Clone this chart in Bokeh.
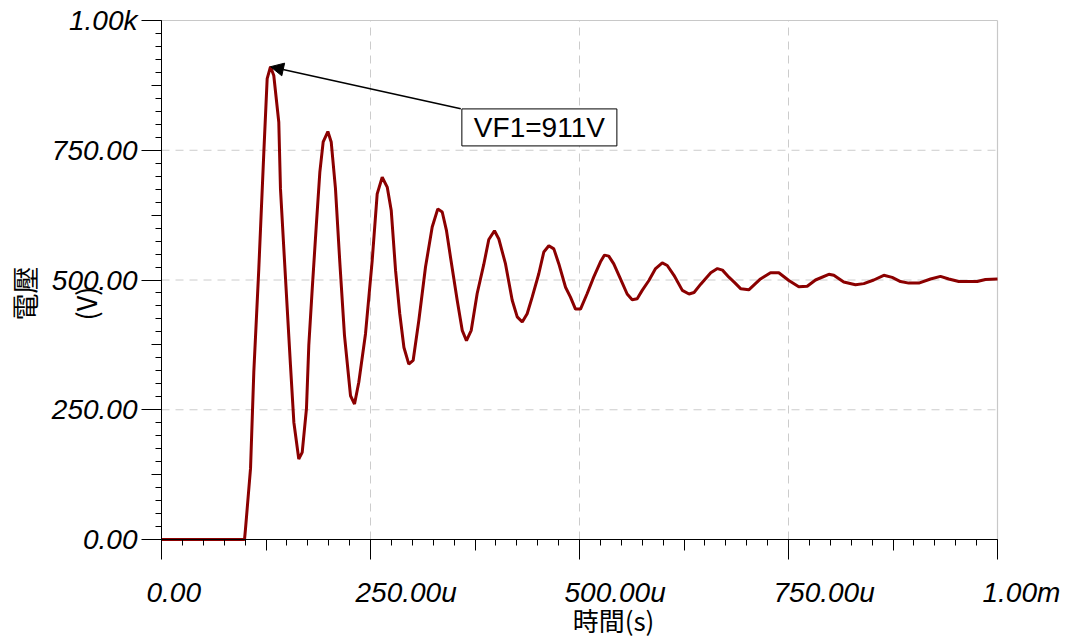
import math
from bokeh.plotting import figure
from bokeh.models import Range1d, FixedTicker, LinearAxis, Label, Arrow, NormalHead
from bokeh.embed import file_html
from bokeh.resources import INLINE

# ---- data (time in microseconds, voltage in volts) ----
time_us = [0, 99.3, 100.5, 106.5, 110.4, 116.4, 122.4, 126.4, 130.4, 134.3, 140.3, 142.3,
           146.3, 150.4, 154.3, 158.3, 164.2, 168.3, 173.4, 176.2, 180.3, 185.4, 189.4, 193.4,
           199, 203, 208.1, 213.3, 218.9, 226.1, 230.9, 236, 244, 252, 258, 264, 270, 274.8,
           280, 285, 290, 295.8, 301, 307.8, 315.8, 323.8, 330.5, 335.8, 340.9, 345.7, 353.7,
           359.7, 364.8, 370.5, 377.6, 385.5, 391.5, 398.3, 403.5, 411.5, 419.5, 425.5, 431.5,
           437.4, 443.4, 451.3, 457.3, 463.3, 469.3, 475.3, 483.3, 489.2, 495.2, 501.2, 509.2,
           517.1, 525.1, 529.9, 535, 541, 549, 557, 563, 569, 575, 583, 591, 599, 605, 613,
           623, 631, 637, 645, 657, 665, 671, 679, 685, 693, 702.5, 716.5, 728.5, 738.4,
           750.4, 762.3, 772.4, 782.3, 798.2, 804.2, 816.1, 830.1, 840.1, 852, 864, 874, 884,
           893.9, 905.9, 919.9, 931.8, 941.7, 953.7, 975.7, 985.6, 1000]
voltage = [0, 0, 21, 137, 322, 522, 746, 888, 911, 894, 804, 676,
           561, 445, 335, 226, 155, 168, 252, 374, 483, 611, 708, 766,
           786, 766, 676, 534, 393, 277, 261, 303, 396, 537, 666, 698, 679, 634,
           518, 435, 370, 338, 345, 422, 525, 602, 637, 631, 595, 544, 461,
           403, 383, 403, 474, 530, 578, 595, 579, 531, 461, 429, 419,
           435, 467, 512, 554, 566, 560, 531, 486, 467, 444, 444, 474,
           506, 535, 548, 546, 531, 502, 473, 462, 464, 480, 499, 522, 533, 528, 509,
           480, 473, 476, 492, 514, 522, 519, 505, 496, 483, 481, 502, 514, 514,
           499, 487, 488, 500, 511, 509, 496, 491, 493, 500, 509, 505, 497,
           494, 494, 502, 507, 502, 497, 497, 501, 502]

x_ticks = [0, 250, 500, 750, 1000]
x_tick_labels = ["0.00", "250.00u", "500.00u", "750.00u", "1.00m"]
y_ticks = [0, 250, 500, 750, 1000]
y_tick_labels = ["0.00", "250.00", "500.00", "750.00", "1.00k"]
minor_step = 25
x_title = "時間(s)"
y_title_1 = "電壓"
y_title_2 = "(V)"

peak_t, peak_v = 130.4, 911
annot_text = "VF1=911V"
annot_t, annot_v = 452, 794      # centre of the annotation box
arrow_t0, arrow_v0 = 358, 830    # arrow tail (box corner)

# ---- layout (pixels) ----
W, H = 1068, 639
PLOT_LEFT, PLOT_RIGHT, PLOT_TOP, PLOT_BOTTOM = 161, 997, 20, 539

LINE_COLOR = "#8b0000"
GRID_COLOR = "#cccccc"
FONT = "Liberation Sans"
CJK = "Noto Sans CJK TC"

x0, x1 = x_ticks[0], x_ticks[-1]
y0, y1 = y_ticks[0], y_ticks[-1]
kx = (PLOT_RIGHT - PLOT_LEFT) / (x1 - x0)
ky = (PLOT_BOTTOM - PLOT_TOP) / (y1 - y0)
x_range = Range1d(x0 - PLOT_LEFT / kx, x0 + (W - PLOT_LEFT) / kx)
y_range = Range1d(y0 - (H - PLOT_BOTTOM) / ky, y0 + PLOT_BOTTOM / ky)

p = figure(width=W, height=H, x_range=x_range, y_range=y_range, title=None,
           x_axis_location=None, y_axis_location=None,
           output_backend="svg", toolbar_location=None,
           min_border=0, min_border_left=0, min_border_right=0,
           min_border_top=0, min_border_bottom=0,
           background_fill_color="white", border_fill_color="white",
           outline_line_color=None)
for g in p.grid:
    g.visible = False

# grid lines and plot-area border (top / right)
gx = x_ticks[1:-1]
gy = y_ticks[1:-1]
p.segment(x0=gx, y0=[y0] * len(gx), x1=gx, y1=[y1] * len(gx),
          line_color=GRID_COLOR, line_width=1, line_dash="8 6")
p.segment(x0=[x0] * len(gy), y0=gy, x1=[x1] * len(gy), y1=gy,
          line_color=GRID_COLOR, line_width=1, line_dash="8 6")
p.segment(x0=[x0, x1], y0=[y1, y0], x1=[x1, x1], y1=[y1, y1],
          line_color="#c8c8c8", line_width=1.2)

x_minor = list(range(x0, x1 + 1, minor_step))
y_minor = list(range(y0, y1 + 1, minor_step))
x_mid = [(a + b) / 2 for a, b in zip(x_ticks[:-1], x_ticks[1:])]
y_mid = [(a + b) / 2 for a, b in zip(y_ticks[:-1], y_ticks[1:])]

def make_axis(ticks, minor, bounds, labels=None, tick_out=20, minor_out=6, line=True):
    ax = LinearAxis(fixed_location=0, bounds=bounds,
                    ticker=FixedTicker(ticks=ticks, minor_ticks=minor),
                    axis_line_color="black" if line else None, axis_line_width=1,
                    major_tick_line_color="black", minor_tick_line_color="black",
                    major_tick_in=0, minor_tick_in=0,
                    major_tick_out=tick_out, minor_tick_out=minor_out)
    if labels is None:
        ax.major_label_overrides = {t: "" for t in ticks}
        ax.major_label_text_font_size = "0px"
        ax.major_label_standoff = 0
    else:
        ax.major_label_overrides = {t: s for t, s in zip(ticks, labels)}
        ax.major_label_text_font = FONT
        ax.major_label_text_font_style = "italic"
        ax.major_label_text_font_size = "28px"
        ax.major_label_text_color = "black"
        ax.major_label_standoff = 4
    return ax

p.add_layout(make_axis(x_ticks, x_minor, (x0, x1)), "below")
p.add_layout(make_axis(y_ticks, y_minor, (y0, y1), labels=y_tick_labels), "left")
# medium-length ticks at the half-way points
p.add_layout(make_axis(x_mid, [], (x0, x1), tick_out=11, minor_out=0, line=False), "below")
p.add_layout(make_axis(y_mid, [], (y0, y1), tick_out=10, minor_out=0, line=False), "left")

p.line(time_us, voltage, line_color=LINE_COLOR, line_width=3)

# x tick labels (left-aligned slightly before each tick)
for t, s in zip(x_ticks, x_tick_labels):
    p.add_layout(Label(x=t, y=y0, x_offset=-15, y_offset=-53, text=s,
                       text_align="left", text_baseline="alphabetic",
                       text_font=FONT, text_font_style="italic",
                       text_font_size="28px", text_color="black"))

# axis titles
p.add_layout(Label(x=(x0 + x1) / 2, y=y0, x_offset=34, y_offset=-80, text=x_title,
                   text_align="center", text_baseline="middle",
                   text_font=CJK, text_font_size="26px", text_color="black"))
p.add_layout(Label(x=x0, y=y0, x_offset=-137.5, y_offset=219, text=y_title_1,
                   angle=math.pi / 2, text_align="left", text_baseline="middle",
                   text_font=CJK, text_font_size="27px", text_color="black"))
p.add_layout(Label(x=x0, y=y0, x_offset=-76, y_offset=219, text=y_title_2,
                   angle=math.pi / 2, text_align="left", text_baseline="middle",
                   text_font=CJK, text_font_size="27px", text_color="black"))

# peak annotation
p.add_layout(Arrow(x_start=arrow_t0, y_start=arrow_v0, x_end=peak_t, y_end=peak_v,
                   line_color="black", line_width=1.5,
                   end=NormalHead(size=13, fill_color="black", line_color="black")))
p.add_layout(Label(x=annot_t, y=annot_v, text=annot_text,
                   text_align="center", text_baseline="middle",
                   text_font=FONT, text_font_size="28px", text_color="black",
                   background_fill_color="white", border_line_color="black",
                   border_line_width=1, padding=(12, 12, 3, 3)))

open("out.html", "w").write(file_html(p, INLINE))
